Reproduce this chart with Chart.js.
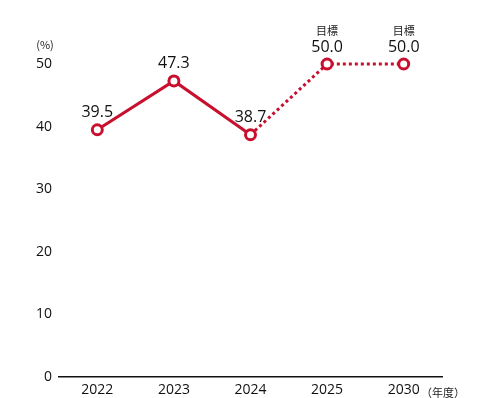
<!DOCTYPE html>
<html>
<head>
<meta charset="utf-8">
<script src="https://cdn.jsdelivr.net/npm/chart.js@4"></script>
<style>
  body { margin: 0; background: #fff; }
  #wrap { width: 500px; height: 398px; position: relative; }
</style>
</head>
<body>
<div id="wrap"><canvas id="myCanvas"></canvas></div>
<script>
const years = ["2022", "2023", "2024", "2025", "2030"];
const values = [39.5, 47.3, 38.7, 50.0, 50.0];
const targetFlags = [false, false, false, true, true];
const yTicks = [0, 10, 20, 30, 40, 50];

const red = "#c8102e";
const fontFamily = "'Open Sans', 'Noto Sans CJK JP', sans-serif";

// labels above points, plus units
const labelPlugin = {
    id: "labels",
    afterDatasetsDraw(chart) {
        const ctx = chart.ctx;
        const meta = chart.getDatasetMeta(0);
        ctx.save();
        ctx.textAlign = "center";
        ctx.textBaseline = "middle";
        ctx.fillStyle = "#111";
        meta.data.forEach((pt, i) => {
            ctx.font = "16px " + fontFamily;
            ctx.fillText(values[i].toFixed(1), pt.x, pt.y - 17);
            if (targetFlags[i]) {
                ctx.font = "11px 'Noto Sans CJK JP', sans-serif";
                ctx.fillStyle = "#222";
                ctx.fillText("目標", pt.x, pt.y - 33);
                ctx.fillStyle = "#111";
            }
        });
        ctx.font = "11px 'Noto Sans CJK JP', sans-serif";
        ctx.fillStyle = "#222";
        ctx.fillText("(%)", 45, 45);
        ctx.fillText("（年度）", 443, 393);
        ctx.restore();
    }
};

const myCanvas = document.getElementById("myCanvas");

const gChart = new Chart(myCanvas, {
    type: "line",
    data: {
        labels: years,
        datasets: [{
            data: values,
            clip: false,
            borderColor: red,
            borderWidth: 3,
            pointRadius: 5,
            pointBorderWidth: 3,
            pointBackgroundColor: "#fff",
            pointBorderColor: red,
            segment: {
                borderDash: c => c.p1DataIndex >= 3 ? [3, 3] : undefined
            }
        }]
    },
    options: {
        responsive: true,
        maintainAspectRatio: false,
        animation: false,
        layout: { padding: { left: 0, right: 58, top: 64, bottom: 0 } },
        plugins: {
            legend: { display: false },
            tooltip: { enabled: false }
        },
        scales: {
            x: {
                offset: true,
                grid: { display: false, drawTicks: false },
                border: { display: true, color: "#111", width: 1.5 },
                ticks: { color: "#111", font: { family: fontFamily, size: 14 }, padding: 5 },
                afterFit: s => { s.height = 21; }
            },
            y: {
                min: 0,
                max: 50,
                afterBuildTicks: s => { s.ticks = yTicks.map(v => ({ value: v })); },
                grid: { display: false, drawTicks: false },
                border: { display: false },
                ticks: { color: "#111", font: { family: fontFamily, size: 14 }, padding: 7 },
                afterFit: s => { s.width = 59; }
            }
        }
    },
    plugins: [labelPlugin]
});
</script>
</body>
</html>
